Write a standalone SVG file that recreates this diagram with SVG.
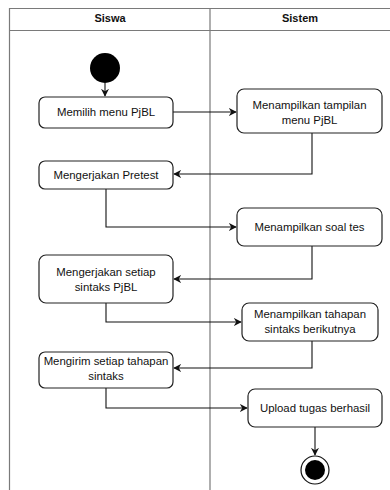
<svg xmlns="http://www.w3.org/2000/svg" width="390" height="490" viewBox="0 0 390 490">
<style>
.lane{fill:none;stroke:#7a7a7a;stroke-width:1.2}
.box{fill:#fff;stroke:#222;stroke-width:1.2}
.t{font-family:"Liberation Sans",Arial,sans-serif;font-size:11.4px;fill:#111;text-anchor:middle}
.h{font-family:"Liberation Sans",Arial,sans-serif;font-size:11px;font-weight:bold;fill:#111;text-anchor:middle}
.c{fill:none;stroke:#111;stroke-width:1.1}
</style>
<defs>
<marker id="a" viewBox="0 0 10 10" refX="9" refY="5" markerWidth="8" markerHeight="8" markerUnits="userSpaceOnUse" orient="auto">
<path d="M0,0 L10,5 L0,10 L3,5 Z" fill="#111"/>
</marker>
</defs>
<rect width="390" height="490" fill="#fff"/>
<g id="lanes">
<path class="lane" d="M9.5,491 V8.5 H391 M9.5,30.5 H391 M210,8.5 V491"/>
<text class="h" x="110" y="22">Siswa</text>
<text class="h" x="300" y="22">Sistem</text>
</g>
<g id="connectors">
<path class="c" d="M105,83 V96" marker-end="url(#a)"/>
<path class="c" d="M173,112 H236" marker-end="url(#a)"/>
<path class="c" d="M312,133 V174 H174" marker-end="url(#a)"/>
<path class="c" d="M106,189 V227 H236" marker-end="url(#a)"/>
<path class="c" d="M312,246 V279 H174" marker-end="url(#a)"/>
<path class="c" d="M106,303 V322 H241" marker-end="url(#a)"/>
<path class="c" d="M312,341 V368 H174" marker-end="url(#a)"/>
<path class="c" d="M106,388 V408 H247" marker-end="url(#a)"/>
<path class="c" d="M315,427 V455" marker-end="url(#a)"/>
</g>
<g id="start"><circle cx="105" cy="68" r="15" fill="#000"/></g>
<g id="n1"><rect class="box" x="39" y="97" width="134" height="31" rx="6"/><text class="t" x="106" y="116">Memilih menu PjBL</text></g>
<g id="n2"><rect class="box" x="237" y="89" width="145" height="44" rx="7"/><text class="t" x="309.5" y="109">Menampilkan tampilan</text><text class="t" x="309.5" y="124">menu PjBL</text></g>
<g id="n3"><rect class="box" x="39" y="161" width="134" height="28" rx="6"/><text class="t" x="106" y="179">Mengerjakan Pretest</text></g>
<g id="n4"><rect class="box" x="237" y="208" width="145" height="38" rx="7"/><text class="t" x="309.5" y="231">Menampilkan soal tes</text></g>
<g id="n5"><rect class="box" x="39" y="255" width="134" height="48" rx="7"/><text class="t" x="106" y="276">Mengerjakan setiap</text><text class="t" x="106" y="291">sintaks PjBL</text></g>
<g id="n6"><rect class="box" x="242" y="303" width="136" height="38" rx="7"/><text class="t" x="310" y="318">Menampilkan tahapan</text><text class="t" x="310" y="333">sintaks berikutnya</text></g>
<g id="n7"><rect class="box" x="39" y="352" width="134" height="36" rx="6"/><text class="t" x="106" y="365">Mengirim setiap tahapan</text><text class="t" x="106" y="380">sintaks</text></g>
<g id="n8"><rect class="box" x="248" y="389" width="134" height="38" rx="7"/><text class="t" x="315" y="412">Upload tugas berhasil</text></g>
<g id="end"><circle cx="315" cy="470" r="14" fill="#fff" stroke="#111" stroke-width="1.2"/><circle cx="315" cy="470" r="10" fill="#000"/></g>
</svg>
